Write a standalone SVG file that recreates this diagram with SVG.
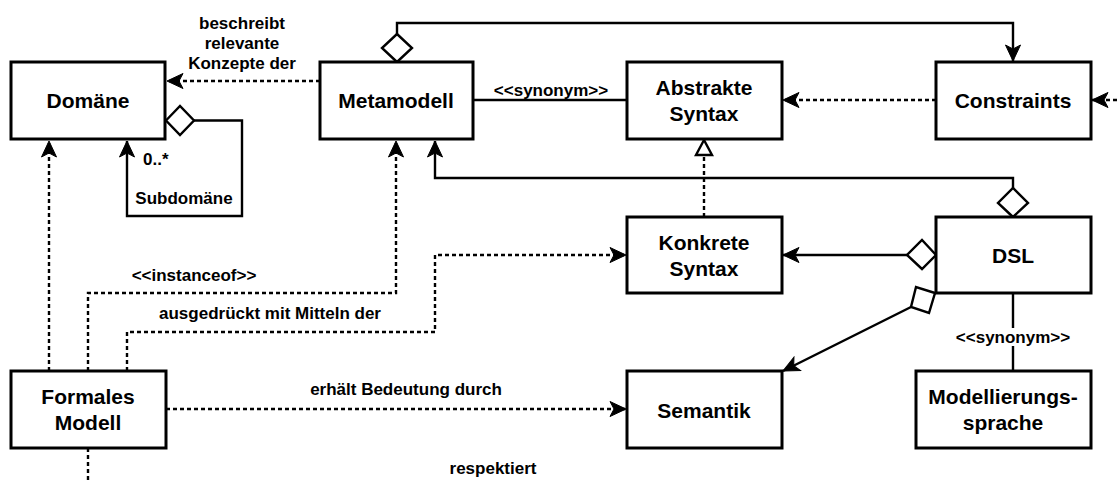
<svg xmlns="http://www.w3.org/2000/svg" width="1117" height="483" viewBox="0 0 1117 483">
<style>
.box{fill:#fff;stroke:#000;stroke-width:3}
.n{font-family:"Liberation Sans",Arial,sans-serif;font-weight:bold;font-size:21px;text-anchor:middle;dominant-baseline:central;fill:#000}
.l{font-family:"Liberation Sans",Arial,sans-serif;font-weight:bold;font-size:17px;text-anchor:middle;dominant-baseline:central;fill:#000}
.c{fill:none;stroke:#000;stroke-width:2.4}
.d{stroke-dasharray:4 3}
.dia{fill:#fff;stroke:#000;stroke-width:2.4;stroke-linejoin:miter}
</style>
<defs>
<marker id="arr" markerUnits="userSpaceOnUse" viewBox="-17 -9 18 18" markerWidth="18" markerHeight="18" refX="0" refY="0" orient="auto">
<path d="M0,0 L-16,-7.5 L-12,0 L-16,7.5 Z" fill="#000" stroke="#000" stroke-width="1"/>
</marker>
<marker id="tri" markerUnits="userSpaceOnUse" viewBox="-18 -10 20 20" markerWidth="20" markerHeight="20" refX="0" refY="0" orient="auto">
<path d="M0,0 L-15,-8 L-15,8 Z" fill="#fff" stroke="#000" stroke-width="2.4"/>
</marker>
</defs>

<g id="connectors">
<!-- Metamodell -> Domäne -->
<path class="c d" d="M320,81 L167,81" marker-end="url(#arr)"/>
<!-- Domäne self aggregation -->
<polygon class="dia" points="166,120.5 180,106 194,120.5 180,135"/>
<path class="c" d="M194,120.5 L242,120.5 L242,216 L127,216 L127,141" marker-end="url(#arr)"/>
<!-- Formales Modell -> Domäne -->
<path class="c d" d="M49,371 L49,141" marker-end="url(#arr)"/>
<!-- Metamodell aggregation -> Constraints -->
<polygon class="dia" points="397,62 382,48 397,34 412,48"/>
<path class="c" d="M397,34 L397,23 L1013,23 L1013,61" marker-end="url(#arr)"/>
<!-- Metamodell - Abstrakte Syntax -->
<path class="c" d="M473,100 L627,100"/>
<!-- Constraints -> Abstrakte Syntax -->
<path class="c d" d="M936,100 L783,100" marker-end="url(#arr)"/>
<!-- incoming from right into Constraints -->
<path class="c d" d="M1117,100 L1092,100" marker-end="url(#arr)"/>
<!-- Konkrete Syntax -> Abstrakte Syntax -->
<path class="c d" d="M704,217 L704,140" marker-end="url(#tri)"/>
<!-- DSL aggregation -> Metamodell -->
<polygon class="dia" points="1013,217 998,203 1013,188 1028,203"/>
<path class="c" d="M1013,188 L1013,178 L435,178 L435,141" marker-end="url(#arr)"/>
<!-- DSL aggregation -> Konkrete Syntax -->
<polygon class="dia" points="936,255 922,240 907,255 922,269"/>
<path class="c" d="M907,255 L783,255" marker-end="url(#arr)"/>
<!-- DSL aggregation -> Semantik -->
<polygon class="dia" points="935,293 916,287 911,307 929,313"/>
<path class="c" d="M911,307 L783,371" marker-end="url(#arr)"/>
<!-- DSL - Modellierungssprache -->
<path class="c" d="M1013,293 L1013,371"/>
<!-- Formales Modell -> Metamodell -->
<path class="c d" d="M88,371 L88,293 L396,293 L396,141" marker-end="url(#arr)"/>
<!-- Formales Modell -> Konkrete Syntax -->
<path class="c d" d="M127,371 L127,332 L435,332 L435,255 L626,255" marker-end="url(#arr)"/>
<!-- Formales Modell -> Semantik -->
<path class="c d" d="M166,409 L626,409" marker-end="url(#arr)"/>
<!-- Formales Modell respektiert (down) -->
<path class="c d" d="M88,448 L88,483"/>
</g>

<g id="labels">
<text class="l" x="242" y="23">beschreibt</text>
<text class="l" x="242" y="43">relevante</text>
<text class="l" x="242" y="63">Konzepte der</text>
<text class="l" x="143" y="159" style="text-anchor:start">0..*</text>
<text class="l" x="184" y="198">Subdomäne</text>
<text class="l" x="551" y="90">&lt;&lt;synonym&gt;&gt;</text>
<text class="l" x="194" y="275">&lt;&lt;instanceof&gt;&gt;</text>
<text class="l" x="270" y="313">ausgedrückt mit Mitteln der</text>
<text class="l" x="406" y="389">erhält Bedeutung durch</text>
<text class="l" x="493" y="468">respektiert</text>
<rect x="955" y="328" width="116" height="18" fill="#fff"/>
<text class="l" x="1013" y="337">&lt;&lt;synonym&gt;&gt;</text>
</g>

<g id="domaene"><rect class="box" x="11" y="62" width="154" height="77"/><text class="n" x="88" y="100">Domäne</text></g>
<g id="metamodell"><rect class="box" x="320" y="62" width="153" height="77"/><text class="n" x="396" y="100">Metamodell</text></g>
<g id="abstrakte-syntax"><rect class="box" x="627" y="62" width="155" height="77"/><text class="n" x="704" y="87">Abstrakte</text><text class="n" x="704" y="113">Syntax</text></g>
<g id="constraints"><rect class="box" x="936" y="62" width="155" height="77"/><text class="n" x="1013" y="100">Constraints</text></g>
<g id="konkrete-syntax"><rect class="box" x="627" y="217" width="155" height="76"/><text class="n" x="704" y="242">Konkrete</text><text class="n" x="704" y="268">Syntax</text></g>
<g id="dsl"><rect class="box" x="936" y="217" width="155" height="76"/><text class="n" x="1013" y="255">DSL</text></g>
<g id="semantik"><rect class="box" x="627" y="371" width="155" height="77"/><text class="n" x="704" y="410">Semantik</text></g>
<g id="modellierungssprache"><rect class="box" x="916" y="371" width="175" height="77"/><text class="n" x="1003" y="396">Modellierungs-</text><text class="n" x="1003" y="422">sprache</text></g>
<g id="formales-modell"><rect class="box" x="11" y="371" width="155" height="77"/><text class="n" x="88" y="396">Formales</text><text class="n" x="88" y="422">Modell</text></g>
</svg>
